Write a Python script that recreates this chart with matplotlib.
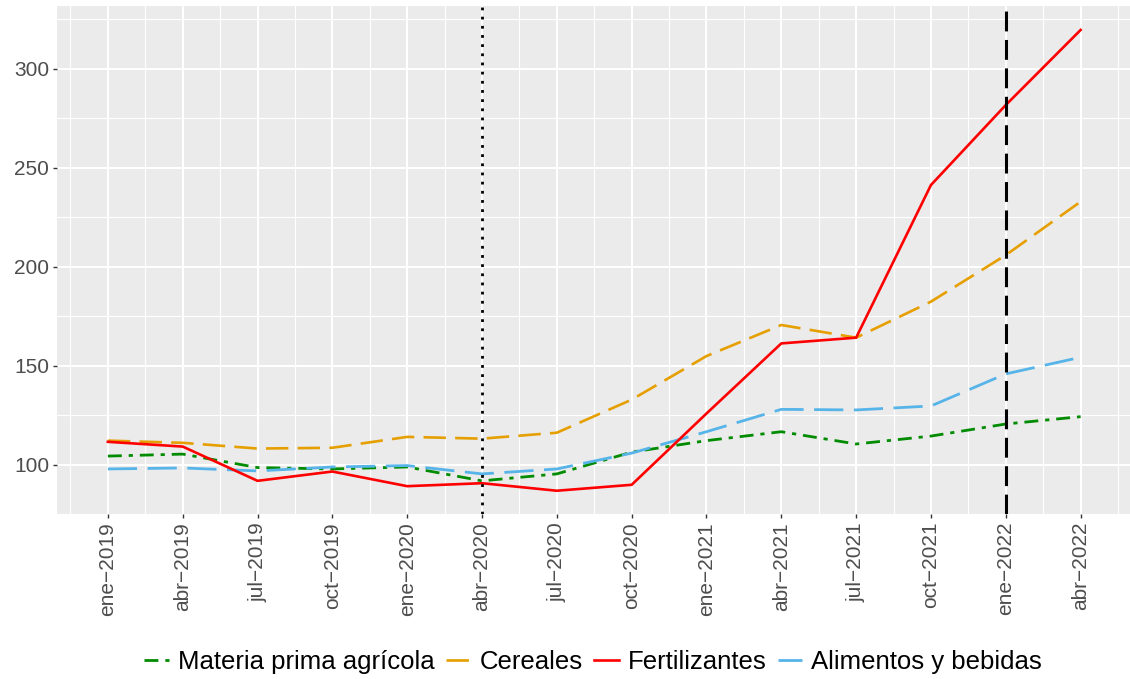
import matplotlib
matplotlib.use("Agg")
import matplotlib.pyplot as plt
import numpy as np

# trimestres
fechas = ["ene-2019", "abr-2019", "jul-2019", "oct-2019", "ene-2020", "abr-2020", "jul-2020",
          "oct-2020", "ene-2021", "abr-2021", "jul-2021", "oct-2021", "ene-2022", "abr-2022"]

# indices
materia_prima = [104.5, 105.5, 98.7, 98.0, 99.0, 92.0, 95.5, 106.5, 112.3, 116.8, 110.6, 114.6, 120.7, 124.4]
cereales = [112.3, 111.2, 108.3, 108.7, 114.2, 113.3, 116.3, 133.0, 155.0, 170.7, 164.3, 182.5, 206.0, 233.0]
fertilizantes = [111.7, 109.3, 92.0, 96.7, 89.3, 90.8, 87.0, 90.0, 126.0, 161.4, 164.3, 241.4, 281.8, 319.7]
alimentos = [98.0, 98.5, 97.0, 99.0, 99.7, 95.5, 98.0, 106.0, 116.8, 128.1, 127.8, 129.8, 146.0, 154.4]

# lineas verticales
linea_punteada = "abr-2020"
linea_discontinua = "ene-2022"

plt.rcParams['font.family'] = ['Liberation Sans', 'DejaVu Sans']

fig = plt.figure(figsize=(11.3, 6.79), dpi=100)
ax = fig.add_axes([57/1130, 1 - 514/679, 1 - 57/1130, (514 - 6)/679])
ax.set_facecolor('#EBEBEB')

x = np.arange(len(fechas))

ax.plot(x, materia_prima, color='#008B00', lw=2.0, linestyle=(0, (5, 2.5, 1.5, 2.5)),
        label='Materia prima agrícola')
ax.plot(x, cereales, color='#E69F00', lw=1.9, linestyle=(0, (8.5, 3.5)), label='Cereales')
ax.plot(x, fertilizantes, color='#FF0000', lw=1.9, label='Fertilizantes')
ax.plot(x, alimentos, color='#56B4E9', lw=2.0, linestyle=(0, (10.5, 3.8)), label='Alimentos y bebidas')

# fertilizantes arriba como en el original
ax.lines[2].set_zorder(3)

ax.axvline(fechas.index(linea_punteada), color='black', lw=2.0, linestyle=(0, (1, 2.3)), zorder=4)
ax.axvline(fechas.index(linea_discontinua), color='black', lw=2.2, linestyle=(0, (6.5, 2.8)), zorder=4)

ax.set_xlim(-0.68, 13.66)
ax.set_ylim(75.25, 331.8)

ax.set_xticks(x)
ax.set_xticklabels([f.replace('-', '\u2212') for f in fechas], rotation=90, fontsize=15, color='#4D4D4D')
ax.set_xticks(np.arange(-0.5, 14, 1), minor=True)
ax.set_yticks([100, 150, 200, 250, 300])
ax.set_yticks([125, 175, 225, 275, 325], minor=True)
ax.tick_params(axis='y', labelsize=15, labelcolor='#4D4D4D')

ax.tick_params(which='major', length=3.2, width=1.0, color='#333333', pad=2.5)
ax.tick_params(which='minor', length=0)

ax.grid(which='major', color='white', lw=1.5)
ax.grid(which='minor', color='white', lw=0.8)
ax.set_axisbelow(True)

for s in ax.spines.values():
    s.set_visible(False)

fig.legend(*ax.get_legend_handles_labels(), loc='center', bbox_to_anchor=(0.525, 1 - 662/679),
           ncol=4, frameon=False, fontsize=18.5, handlelength=0.95, handletextpad=0.35,
           columnspacing=0.45)

fig.savefig('out.png', dpi=100)
